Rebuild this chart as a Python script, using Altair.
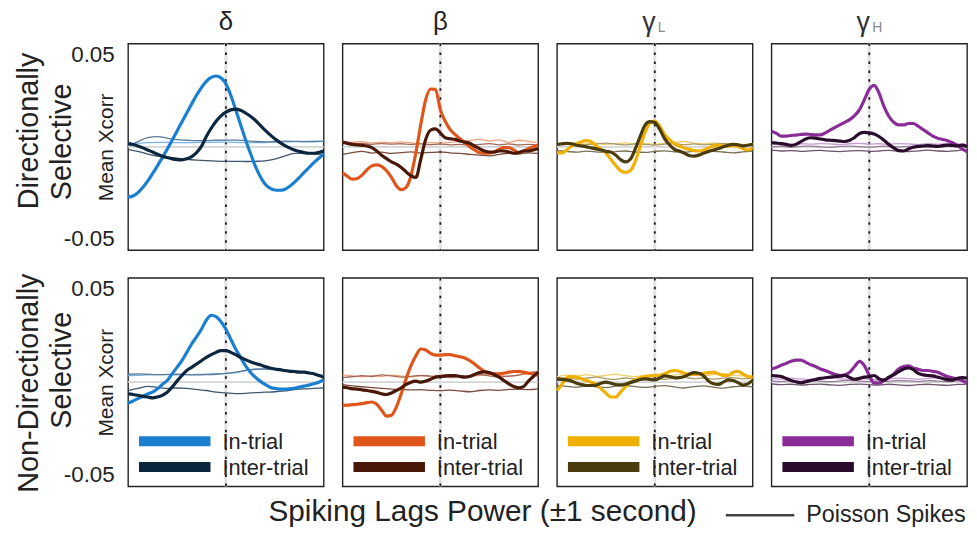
import altair as alt
import pandas as pd

# ---------------- sample grids (lag in seconds) ----------------
LAG_FINE = [-1.0, -0.95, -0.9, -0.85, -0.8, -0.75, -0.7, -0.65, -0.6, -0.55,
            -0.5, -0.45, -0.4, -0.35, -0.3, -0.25, -0.2, -0.15, -0.1, -0.05,
            0.0, 0.05, 0.1, 0.15, 0.2, 0.25, 0.3, 0.35, 0.4, 0.45,
            0.5, 0.55, 0.6, 0.65, 0.7, 0.75, 0.8, 0.85, 0.9, 0.95, 1.0]
LAG_COARSE = [-1.0, -0.9, -0.8, -0.7, -0.6, -0.5, -0.4, -0.3, -0.2, -0.1, 0.0,
              0.1, 0.2, 0.3, 0.4, 0.5, 0.6, 0.7, 0.8, 0.9, 1.0]

BANDS = ["δ", "β", "γL", "γH"]
ROWS = ["Directionally Selective", "Non-Directionally Selective"]
KINDS = ["In-trial", "Inter-trial"]

# ---------------- Directionally selective: thick curves ----------------
DS_DELTA_IN = [-0.0244, -0.0238, -0.0222, -0.0197, -0.0166, -0.0130, -0.0092, -0.0052, -0.0012, 0.0032,
               0.0076, 0.0120, 0.0164, 0.0208, 0.0250, 0.0287, 0.0317, 0.0336, 0.0343, 0.0334,
               0.0305, 0.0250, 0.0180, 0.0108, 0.0036, -0.0030, -0.0092, -0.0142, -0.0180, -0.0200,
               -0.0209, -0.0210, -0.0206, -0.0192, -0.0172, -0.0149, -0.0124, -0.0100, -0.0076, -0.0055,
               -0.0036]
DS_DELTA_INTER = [0.0017, 0.0011, 0.0004, -0.0005, -0.0015, -0.0025, -0.0036, -0.0045, -0.0052, -0.0058,
                  -0.0062, -0.0063, -0.0058, -0.0047, -0.0028, 0.0002, 0.0050, 0.0090, 0.0124, 0.0150,
                  0.0168, 0.0179, 0.0183, 0.0177, 0.0164, 0.0148, 0.0129, 0.0105, 0.0081, 0.0059,
                  0.0039, 0.0022, 0.0007, -0.0005, -0.0015, -0.0022, -0.0028, -0.0031, -0.0031, -0.0027,
                  -0.0020]
DS_BETA_IN = [-0.0124, -0.0143, -0.0156, -0.0153, -0.0137, -0.0111, -0.0092, -0.0087, -0.0095, -0.0116,
              -0.0148, -0.0188, -0.0207, -0.0196, -0.0140, -0.0028, 0.0108, 0.0228, 0.0280, 0.0278,
              0.0180, 0.0124, 0.0084, 0.0060, 0.0039, 0.0020, 0.0001, -0.0015, -0.0028, -0.0031,
              -0.0031, -0.0025, -0.0012, -0.0004, -0.0004, -0.0015, -0.0028, -0.0020, -0.0009, 0.0001,
              0.0007]
DS_BETA_INTER = [0.0023, 0.0017, 0.0012, 0.0009, 0.0007, 0.0004, -0.0004, -0.0020, -0.0041, -0.0057,
                 -0.0073, -0.0084, -0.0100, -0.0121, -0.0140, -0.0148, -0.0060, 0.0036, 0.0081, 0.0087,
                 0.0068, 0.0044, 0.0039, 0.0036, 0.0028, 0.0023, 0.0017, 0.0004, -0.0009, -0.0020,
                 -0.0025, -0.0025, -0.0020, -0.0020, -0.0025, -0.0031, -0.0028, -0.0020, -0.0020, -0.0015,
                 -0.0009]
DS_GAMMAL_IN = [-0.0028, -0.0030, -0.0015, 0.0004, 0.0015, 0.0025, 0.0030, 0.0025, 0.0005, -0.0010,
                -0.0030, -0.0060, -0.0090, -0.0115, -0.0124, -0.0115, -0.0070, 0.0000, 0.0070, 0.0115,
                0.0125, 0.0100, 0.0060, 0.0035, 0.0015, 0.0004, -0.0005, -0.0012, -0.0018, -0.0020,
                -0.0015, -0.0005, 0.0004, 0.0008, 0.0005, 0.0003, 0.0006, 0.0002, -0.0008, -0.0015,
                -0.0004]
DS_GAMMAL_INTER = [0.0012, 0.0015, 0.0017, 0.0015, 0.0008, 0.0004, 0.0000, -0.0005, -0.0010, -0.0015,
                   -0.0022, -0.0025, -0.0040, -0.0062, -0.0073, -0.0060, -0.0010, 0.0050, 0.0105, 0.0122,
                   0.0118, 0.0085, 0.0040, 0.0010, -0.0012, -0.0020, -0.0030, -0.0042, -0.0045, -0.0040,
                   -0.0030, -0.0022, -0.0015, -0.0008, 0.0000, 0.0008, 0.0012, 0.0010, 0.0004, 0.0008,
                   0.0012]
DS_GAMMAH_IN = [0.0076, 0.0065, 0.0052, 0.0052, 0.0055, 0.0057, 0.0060, 0.0062, 0.0060, 0.0058,
                0.0058, 0.0068, 0.0081, 0.0094, 0.0106, 0.0119, 0.0132, 0.0151, 0.0180, 0.0228,
                0.0279, 0.0298, 0.0260, 0.0196, 0.0148, 0.0119, 0.0106, 0.0106, 0.0113, 0.0113,
                0.0100, 0.0084, 0.0068, 0.0052, 0.0042, 0.0036, 0.0030, 0.0020, 0.0007, -0.0009,
                -0.0025]
DS_GAMMAH_INTER = [0.0020, 0.0018, 0.0016, 0.0012, 0.0007, 0.0012, 0.0025, 0.0038, 0.0044, 0.0042,
                   0.0038, 0.0034, 0.0032, 0.0030, 0.0028, 0.0026, 0.0032, 0.0045, 0.0065, 0.0070,
                   0.0068, 0.0062, 0.0050, 0.0032, 0.0012, -0.0005, -0.0018, -0.0020, -0.0010, -0.0002,
                   0.0002, 0.0004, 0.0006, 0.0004, 0.0002, 0.0006, 0.0008, 0.0007, 0.0005, 0.0008,
                   0.0002]

# ---------------- Non-directionally selective: thick curves ----------------
NDS_DELTA_IN = [-0.0100, -0.0090, -0.0079, -0.0068, -0.0056, -0.0048, -0.0032, -0.0011, 0.0008, 0.0040,
                0.0071, 0.0103, 0.0143, 0.0183, 0.0217, 0.0254, 0.0297, 0.0321, 0.0314, 0.0290,
                0.0254, 0.0206, 0.0159, 0.0119, 0.0079, 0.0048, 0.0024, 0.0005, -0.0011, -0.0024,
                -0.0030, -0.0033, -0.0033, -0.0032, -0.0029, -0.0024, -0.0019, -0.0014, -0.0008, 0.0000,
                0.0011]
NDS_DELTA_INTER = [-0.0056, -0.0059, -0.0063, -0.0068, -0.0071, -0.0075, -0.0071, -0.0063, -0.0048, -0.0024,
                   0.0005, 0.0032, 0.0056, 0.0071, 0.0087, 0.0103, 0.0119, 0.0132, 0.0143, 0.0151,
                   0.0151, 0.0143, 0.0132, 0.0119, 0.0108, 0.0098, 0.0090, 0.0083, 0.0075, 0.0068,
                   0.0063, 0.0060, 0.0056, 0.0052, 0.0051, 0.0048, 0.0048, 0.0044, 0.0040, 0.0032,
                   0.0024]
NDS_BETA_IN = [-0.0111, -0.0110, -0.0108, -0.0106, -0.0103, -0.0098, -0.0095, -0.0106, -0.0135, -0.0163,
               -0.0159, -0.0119, -0.0056, 0.0016, 0.0079, 0.0127, 0.0159, 0.0154, 0.0138, 0.0130,
               0.0130, 0.0132, 0.0132, 0.0127, 0.0122, 0.0116, 0.0103, 0.0087, 0.0068, 0.0052,
               0.0043, 0.0040, 0.0040, 0.0043, 0.0048, 0.0051, 0.0052, 0.0048, 0.0043, 0.0040,
               0.0032]
NDS_BETA_INTER = [-0.0024, -0.0027, -0.0032, -0.0033, -0.0037, -0.0040, -0.0044, -0.0049, -0.0056, -0.0059,
                  -0.0052, -0.0040, -0.0027, -0.0011, 0.0000, 0.0005, 0.0000, 0.0005, 0.0014, 0.0024,
                  0.0027, 0.0030, 0.0032, 0.0032, 0.0027, 0.0024, 0.0027, 0.0037, 0.0046, 0.0049,
                  0.0046, 0.0037, 0.0024, 0.0008, -0.0008, -0.0021, -0.0027, -0.0021, 0.0005, 0.0027,
                  0.0048]
NDS_GAMMAL_IN = [-0.0040, -0.0011, 0.0021, 0.0027, 0.0024, 0.0016, 0.0008, 0.0000, -0.0011, -0.0032,
                 -0.0052, -0.0071, -0.0071, -0.0048, -0.0021, 0.0000, 0.0011, 0.0021, 0.0027, 0.0030,
                 0.0032, 0.0033, 0.0040, 0.0051, 0.0056, 0.0052, 0.0043, 0.0037, 0.0037, 0.0040,
                 0.0043, 0.0046, 0.0048, 0.0040, 0.0032, 0.0032, 0.0048, 0.0052, 0.0040, 0.0027,
                 0.0024]
NDS_GAMMAL_INTER = [0.0016, 0.0013, 0.0011, 0.0005, -0.0005, -0.0011, -0.0016, -0.0016, -0.0014, -0.0005,
                    0.0000, -0.0005, -0.0011, -0.0013, -0.0010, -0.0002, 0.0005, 0.0013, 0.0016, 0.0013,
                    0.0011, 0.0020, 0.0030, 0.0027, 0.0021, 0.0022, 0.0027, 0.0038, 0.0046, 0.0043,
                    0.0030, 0.0005, -0.0008, -0.0011, 0.0000, 0.0011, 0.0008, -0.0002, -0.0014, -0.0008,
                    0.0008]
NDS_GAMMAH_IN = [0.0063, 0.0071, 0.0081, 0.0090, 0.0100, 0.0106, 0.0106, 0.0095, 0.0084, 0.0075,
                 0.0063, 0.0056, 0.0046, 0.0037, 0.0032, 0.0035, 0.0048, 0.0075, 0.0100, 0.0079,
                 0.0032, -0.0005, -0.0005, 0.0008, 0.0021, 0.0040, 0.0063, 0.0075, 0.0078, 0.0068,
                 0.0062, 0.0056, 0.0056, 0.0052, 0.0048, 0.0037, 0.0027, 0.0021, 0.0016, 0.0008,
                 -0.0005]
NDS_GAMMAH_INTER = [0.0032, 0.0030, 0.0027, 0.0018, 0.0008, 0.0002, -0.0003, 0.0002, 0.0008, 0.0013,
                    0.0018, 0.0021, 0.0024, 0.0027, 0.0029, 0.0032, 0.0022, 0.0014, 0.0018, 0.0024,
                    0.0027, 0.0032, 0.0016, 0.0010, 0.0024, 0.0035, 0.0050, 0.0063, 0.0068, 0.0060,
                    0.0042, 0.0035, 0.0032, 0.0030, 0.0024, 0.0018, 0.0012, 0.0010, 0.0018, 0.0022,
                    0.0020]

# ---------------- Poisson-spike control curves (thin lines) ----------------
DS_DELTA_POIS_A = [0.0015, 0.0018, 0.0020, 0.0022, 0.0022, 0.0020, 0.0020, 0.0021, 0.0022, 0.0022, 0.0023,
                   0.0022, 0.0020, 0.0020, 0.0021, 0.0022, 0.0024, 0.0025, 0.0026, 0.0026, 0.0027]
DS_DELTA_POIS_B = [0.0005, 0.0025, 0.0045, 0.0050, 0.0042, 0.0035, 0.0032, 0.0030, 0.0030, 0.0032, 0.0033,
                   0.0033, 0.0030, 0.0026, 0.0024, 0.0026, 0.0028, 0.0027, 0.0025, 0.0026, 0.0028]
DS_DELTA_POIS_C = [-0.0012, -0.0022, -0.0035, -0.0045, -0.0050, -0.0055, -0.0060, -0.0064, -0.0067, -0.0069, -0.0070,
                   -0.0070, -0.0071, -0.0070, -0.0068, -0.0060, -0.0045, -0.0032, -0.0030, -0.0034, -0.0036]
DS_BETA_POIS_A = [0.0028, 0.0022, 0.0025, 0.0018, 0.0022, 0.0020, 0.0024, 0.0019, 0.0016, 0.0020, 0.0018,
                  0.0022, 0.0026, 0.0030, 0.0036, 0.0028, 0.0034, 0.0022, 0.0032, 0.0026, 0.0020]
DS_BETA_POIS_B = [0.0018, 0.0014, 0.0017, 0.0012, 0.0016, 0.0013, 0.0015, 0.0012, 0.0014, 0.0011, 0.0013,
                  0.0010, 0.0012, 0.0008, 0.0012, 0.0016, 0.0010, 0.0014, 0.0009, 0.0012, 0.0010]
DS_BETA_POIS_C = [-0.0036, -0.0028, -0.0022, -0.0030, -0.0026, -0.0032, -0.0028, -0.0024, -0.0030, -0.0027, -0.0025,
                  -0.0029, -0.0032, -0.0036, -0.0040, -0.0044, -0.0036, -0.0031, -0.0034, -0.0029, -0.0032]
DS_GAMMAL_POIS_A = [0.0012, 0.0016, 0.0010, 0.0014, 0.0018, 0.0012, 0.0015, 0.0019, 0.0013, 0.0016, 0.0012,
                    0.0017, 0.0022, 0.0026, 0.0018, 0.0014, 0.0019, 0.0013, 0.0017, 0.0011, 0.0015]
DS_GAMMAL_POIS_B = [0.0008, 0.0012, 0.0016, 0.0011, 0.0014, 0.0018, 0.0013, 0.0010, 0.0015, 0.0012, 0.0009,
                    0.0013, 0.0016, 0.0011, 0.0014, 0.0010, 0.0013, 0.0017, 0.0012, 0.0009, 0.0012]
DS_GAMMAL_POIS_C = [-0.0018, -0.0022, -0.0026, -0.0021, -0.0024, -0.0028, -0.0023, -0.0020, -0.0025, -0.0027, -0.0022,
                    -0.0019, -0.0024, -0.0026, -0.0021, -0.0018, -0.0022, -0.0025, -0.0029, -0.0024, -0.0020]
DS_GAMMAH_POIS_A = [0.0014, 0.0016, 0.0012, 0.0015, 0.0013, 0.0016, 0.0014, 0.0011, 0.0015, 0.0017, 0.0013,
                    0.0015, 0.0012, 0.0016, 0.0014, 0.0011, 0.0015, 0.0013, 0.0016, 0.0014, 0.0012]
DS_GAMMAH_POIS_B = [0.0000, 0.0003, -0.0002, 0.0002, 0.0004, 0.0000, -0.0003, 0.0002, 0.0004, 0.0001, -0.0002,
                    0.0002, 0.0003, -0.0001, 0.0002, 0.0004, 0.0000, -0.0002, 0.0002, 0.0001, -0.0001]
DS_GAMMAH_POIS_C = [-0.0016, -0.0020, -0.0018, -0.0022, -0.0019, -0.0017, -0.0021, -0.0023, -0.0019, -0.0018, -0.0022,
                    -0.0020, -0.0017, -0.0021, -0.0023, -0.0019, -0.0016, -0.0020, -0.0022, -0.0018, -0.0015]

NDS_DELTA_POIS_A = [0.0032, 0.0033, 0.0035, 0.0036, 0.0036, 0.0035, 0.0036, 0.0037, 0.0038, 0.0040, 0.0042,
                    0.0046, 0.0055, 0.0062, 0.0062, 0.0060, 0.0058, 0.0055, 0.0048, 0.0040, 0.0032]
NDS_DELTA_POIS_B = [0.0038, 0.0040, 0.0038, 0.0036, 0.0037, 0.0038, 0.0036, 0.0035, 0.0036, 0.0038, 0.0042,
                    0.0048, 0.0056, 0.0062, 0.0064, 0.0062, 0.0058, 0.0052, 0.0046, 0.0038, 0.0030]
NDS_DELTA_POIS_C = [-0.0040, -0.0030, -0.0020, -0.0025, -0.0030, -0.0028, -0.0030, -0.0035, -0.0040, -0.0048, -0.0052,
                    -0.0055, -0.0054, -0.0050, -0.0048, -0.0046, -0.0042, -0.0036, -0.0032, -0.0030, -0.0028]
NDS_BETA_POIS_A = [0.0035, 0.0030, 0.0026, 0.0031, 0.0028, 0.0034, 0.0029, 0.0025, 0.0030, 0.0027, 0.0032,
                   0.0036, 0.0030, 0.0026, 0.0033, 0.0037, 0.0031, 0.0028, 0.0035, 0.0040, 0.0044]
NDS_BETA_POIS_B = [0.0022, 0.0026, 0.0031, 0.0027, 0.0035, 0.0030, 0.0024, 0.0028, 0.0033, 0.0029, 0.0026,
                   0.0022, 0.0027, 0.0031, 0.0036, 0.0030, 0.0025, 0.0029, 0.0034, 0.0045, 0.0050]
NDS_BETA_POIS_C = [-0.0012, -0.0018, -0.0022, -0.0026, -0.0030, -0.0033, -0.0035, -0.0037, -0.0036, -0.0039, -0.0041,
                   -0.0038, -0.0042, -0.0046, -0.0040, -0.0037, -0.0039, -0.0035, -0.0033, -0.0036, -0.0032]
NDS_GAMMAL_POIS_A = [0.0026, 0.0034, 0.0030, 0.0036, 0.0028, 0.0032, 0.0038, 0.0031, 0.0027, 0.0033, 0.0036,
                     0.0030, 0.0034, 0.0040, 0.0035, 0.0031, 0.0037, 0.0042, 0.0034, 0.0030, 0.0028]
NDS_GAMMAL_POIS_B = [0.0018, 0.0022, 0.0015, 0.0019, 0.0024, 0.0017, 0.0013, 0.0020, 0.0016, 0.0021, 0.0018,
                     0.0014, 0.0019, 0.0023, 0.0017, 0.0020, 0.0015, 0.0019, 0.0022, 0.0016, 0.0018]
NDS_GAMMAL_POIS_C = [-0.0015, -0.0020, -0.0024, -0.0018, -0.0022, -0.0026, -0.0019, -0.0016, -0.0021, -0.0025, -0.0020,
                     -0.0017, -0.0023, -0.0028, -0.0021, -0.0018, -0.0024, -0.0029, -0.0022, -0.0019, -0.0023]
NDS_GAMMAH_POIS_A = [0.0018, 0.0015, 0.0019, 0.0016, 0.0013, 0.0017, 0.0020, 0.0016, 0.0014, 0.0018, 0.0015,
                     0.0012, 0.0016, 0.0019, 0.0017, 0.0014, 0.0018, 0.0021, 0.0017, 0.0015, 0.0018]
NDS_GAMMAH_POIS_B = [0.0006, 0.0003, 0.0007, 0.0004, 0.0008, 0.0005, 0.0002, 0.0006, 0.0009, 0.0005, 0.0003,
                     0.0006, 0.0004, 0.0008, 0.0006, 0.0003, 0.0007, 0.0005, 0.0002, 0.0006, 0.0004]
NDS_GAMMAH_POIS_C = [-0.0008, -0.0012, -0.0010, -0.0014, -0.0011, -0.0009, -0.0013, -0.0015, -0.0011, -0.0009, -0.0012,
                     -0.0014, -0.0010, -0.0013, -0.0016, -0.0012, -0.0010, -0.0013, -0.0015, -0.0011, -0.0009]

THICK = {
    (0, "δ"): (DS_DELTA_IN, DS_DELTA_INTER),
    (0, "β"): (DS_BETA_IN, DS_BETA_INTER),
    (0, "γL"): (DS_GAMMAL_IN, DS_GAMMAL_INTER),
    (0, "γH"): (DS_GAMMAH_IN, DS_GAMMAH_INTER),
    (1, "δ"): (NDS_DELTA_IN, NDS_DELTA_INTER),
    (1, "β"): (NDS_BETA_IN, NDS_BETA_INTER),
    (1, "γL"): (NDS_GAMMAL_IN, NDS_GAMMAL_INTER),
    (1, "γH"): (NDS_GAMMAH_IN, NDS_GAMMAH_INTER),
}
THIN = {
    (0, "δ"): (DS_DELTA_POIS_A, DS_DELTA_POIS_B, DS_DELTA_POIS_C),
    (0, "β"): (DS_BETA_POIS_A, DS_BETA_POIS_B, DS_BETA_POIS_C),
    (0, "γL"): (DS_GAMMAL_POIS_A, DS_GAMMAL_POIS_B, DS_GAMMAL_POIS_C),
    (0, "γH"): (DS_GAMMAH_POIS_A, DS_GAMMAH_POIS_B, DS_GAMMAH_POIS_C),
    (1, "δ"): (NDS_DELTA_POIS_A, NDS_DELTA_POIS_B, NDS_DELTA_POIS_C),
    (1, "β"): (NDS_BETA_POIS_A, NDS_BETA_POIS_B, NDS_BETA_POIS_C),
    (1, "γL"): (NDS_GAMMAL_POIS_A, NDS_GAMMAL_POIS_B, NDS_GAMMAL_POIS_C),
    (1, "γH"): (NDS_GAMMAH_POIS_A, NDS_GAMMAH_POIS_B, NDS_GAMMAH_POIS_C),
}

# ---------------- styles ----------------
IN_COLOR = {"δ": "#1a7fd0", "β": "#e0561a", "γL": "#f0b000", "γH": "#8a2c98"}
INTER_COLOR = {"δ": "#0b2740", "β": "#4a1808", "γL": "#4a3c0c", "γH": "#2a0c2c"}
POIS_COLOR = {
    "δ": ["#7ab4e2", "#5a7a98", "#3e566e"],
    "β": ["#f0a07c", "#a06a58", "#7a4c3c"],
    "γL": ["#f2cf6a", "#a89a6a", "#7a7052"],
    "γH": ["#c89cd2", "#9a7c9c", "#6c526c"],
}
FONT = "Liberation Sans"
TXT = "#222222"
W = 197
H = [208, 210]

x_scale = alt.Scale(domain=[-1, 1], nice=False, zero=False)
y_scale = alt.Scale(domain=[-0.05, 0.05], nice=False, zero=False)


def panel(r, c):
    band = BANDS[c]
    h = H[r]
    ins, inter = THICK[(r, band)]
    thick_df = pd.DataFrame({
        "lag": LAG_FINE + LAG_FINE,
        "value": list(ins) + list(inter),
        "kind": [KINDS[0]] * len(LAG_FINE) + [KINDS[1]] * len(LAG_FINE),
    })
    rows = []
    for k, series in enumerate(THIN[(r, band)]):
        for lg, v in zip(LAG_COARSE, series):
            rows.append({"lag": lg, "value": v, "series": f"p{k}", "color": POIS_COLOR[band][k]})
    thin_df = pd.DataFrame(rows)

    if c == 0:
        yaxis = alt.Axis(values=[-0.05, 0.05], labelExpr="datum.value > 0 ? '0.05' : '-0.05'",
                         labelFontSize=22.5, labelFont=FONT, labelColor=TXT, labelPadding=14,
                         labelFlush=True, ticks=False, domain=False, grid=False,
                         title="Mean Xcorr", titleFont=FONT, titleFontSize=21,
                         titleFontWeight="normal", titleColor=TXT, titleAngle=270,
                         titleX=-22, titleY=h / 2, titleAlign="center", titleBaseline="middle")
    else:
        yaxis = None
    x_enc = alt.X("lag:Q", scale=x_scale, axis=None)
    y_enc = alt.Y("value:Q", scale=y_scale, axis=yaxis)

    layers = []
    layers.append(alt.Chart(pd.DataFrame({"value": [0.0]})).mark_rule(
        color="#d4d4d4", strokeWidth=1.6).encode(y=y_enc))
    layers.append(alt.Chart(pd.DataFrame({"lag": [0.0]})).mark_rule(
        color="#e2e2e2", strokeWidth=3).encode(x=x_enc))
    layers.append(alt.Chart(pd.DataFrame({"lag": [0.0]})).mark_rule(
        color="#1a1a1a", strokeWidth=1.8, strokeDash=[2.5, 6.5]).encode(x=x_enc))
    layers.append(alt.Chart(thin_df).mark_line(strokeWidth=1.3, interpolate="monotone").encode(
        x=x_enc, y=y_enc, stroke=alt.Stroke("color:N", scale=None), detail="series:N"))
    layers.append(alt.Chart(thick_df).mark_line(strokeWidth=3.2, interpolate="monotone").encode(
        x=x_enc, y=y_enc,
        color=alt.Color("kind:N", scale=alt.Scale(domain=KINDS, range=[IN_COLOR[band], INTER_COLOR[band]]),
                        legend=None)))

    one = pd.DataFrame({"k": [0]})
    # in-panel key (bottom row)
    if r == 1:
        for i, (kind, col) in enumerate(zip(KINDS, [IN_COLOR[band], INTER_COLOR[band]])):
            yy = 164.5 + 26 * i
            layers.append(alt.Chart(one).mark_rule(color=col, strokeWidth=10).encode(
                x=alt.value(11), x2=alt.value(83), y=alt.value(yy)))
            layers.append(alt.Chart(one).mark_text(text=kind, font=FONT, fontSize=22, color=TXT,
                                                   align="left", baseline="middle").encode(
                x=alt.value(95), y=alt.value(yy + 1)))
    # column headers
    if r == 0:
        if band in ("δ", "β"):
            layers.append(alt.Chart(one).mark_text(text=band, font=FONT, fontSize=26, color=TXT,
                                                   align="center", baseline="middle").encode(
                x=alt.value(W / 2), y=alt.value(-22)))
        else:
            layers.append(alt.Chart(one).mark_text(text="γ", font=FONT, fontSize=27, color="#333333",
                                                   align="center", baseline="middle").encode(
                x=alt.value(W / 2 - 6), y=alt.value(-21)))
            layers.append(alt.Chart(one).mark_text(text=band[1], font=FONT, fontSize=14, color="#888888",
                                                   align="left", baseline="alphabetic").encode(
                x=alt.value(W / 2 + 3), y=alt.value(-12)))
    # row labels
    if c == 0:
        words = ROWS[r].rsplit(" ", 1)
        ys = [(88, 99), (106, 93)][r]
        layers.append(alt.Chart(one).mark_text(text=words[0], font=FONT, fontSize=29, color=TXT,
                                               angle=270, align="center", baseline="middle").encode(
            x=alt.value(-100), y=alt.value(ys[0])))
        layers.append(alt.Chart(one).mark_text(text=words[1], font=FONT, fontSize=29, color=TXT,
                                               angle=270, align="center", baseline="middle").encode(
            x=alt.value(-66), y=alt.value(ys[1])))
    # x title and Poisson key
    if r == 1 and c == 1:
        layers.append(alt.Chart(one).mark_text(text="Spiking Lags Power (±1 second)", font=FONT,
                                               fontSize=30, color=TXT, align="center",
                                               baseline="middle").encode(
            x=alt.value(141), y=alt.value(236)))
    if r == 1 and c == 3:
        layers.append(alt.Chart(one).mark_rule(color="#444444", strokeWidth=2.5).encode(
            x=alt.value(-46), x2=alt.value(23), y=alt.value(239)))
        layers.append(alt.Chart(one).mark_text(text="Poisson Spikes", font=FONT, fontSize=23.5,
                                               color=TXT, align="left", baseline="middle").encode(
            x=alt.value(35), y=alt.value(239)))

    return alt.layer(*layers).properties(width=W, height=h)


row_charts = []
for r in range(2):
    row_charts.append(alt.hconcat(*[panel(r, c) for c in range(4)], spacing=19, bounds="flush")
                      .resolve_scale(color="independent"))

chart = (alt.vconcat(*row_charts, spacing=19)
         .resolve_scale(color="independent")
         .properties(padding={"left": 14, "top": 6, "right": 2, "bottom": 2}, background="white")
         .configure_view(stroke="#222222", strokeWidth=1.4))

chart.save("out.html", embed_options={"renderer": "svg", "actions": False})
